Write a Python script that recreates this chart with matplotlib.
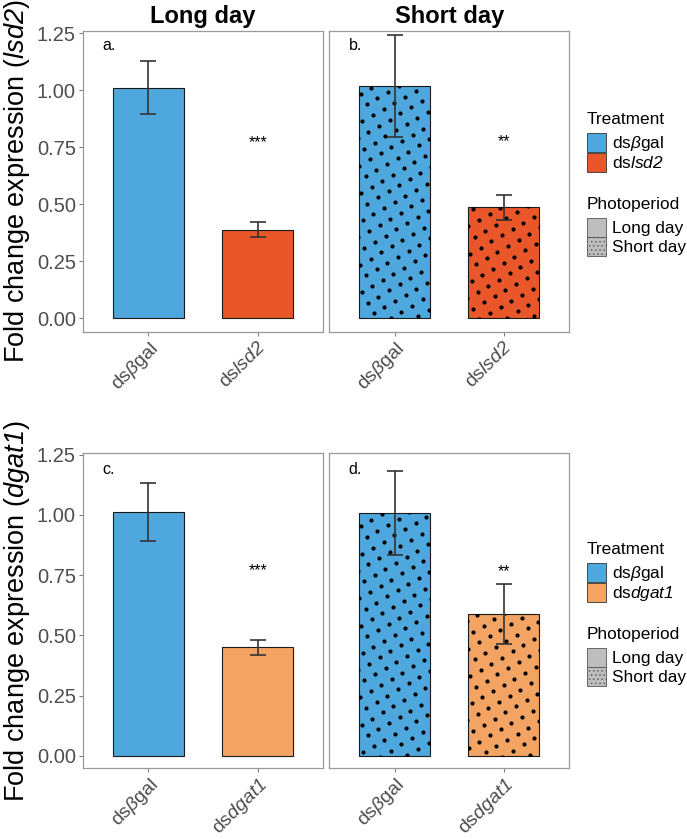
import matplotlib
matplotlib.use('Agg')
import matplotlib.pyplot as plt
import numpy as np
from matplotlib.patches import Patch
from matplotlib.transforms import IdentityTransform

plt.rcParams['font.family'] = ['Liberation Sans', 'DejaVu Sans']
plt.rcParams['mathtext.fontset'] = 'custom'
plt.rcParams['mathtext.rm'] = 'Liberation Sans'
plt.rcParams['mathtext.it'] = 'Liberation Sans:italic'
# \mathsf is used for gene names so that digits come out italic too
plt.rcParams['mathtext.sf'] = 'Liberation Sans:italic'
plt.rcParams['mathtext.bf'] = 'Liberation Sans:bold'
plt.rcParams['hatch.linewidth'] = 0.5

# data (rows: long day, short day; columns: ds-beta-gal, ds-target)
photoperiods = ['Long day', 'Short day']
panel_letters = [['a.', 'b.'], ['c.', 'd.']]
genes = ['lsd2', 'dgat1']

lsd2_mean = [[1.011, 0.387], [1.020, 0.487]]
lsd2_lower = [[0.896, 0.356], [0.796, 0.432]]
lsd2_upper = [[1.128, 0.420], [1.244, 0.541]]
lsd2_stars = ['***', '**']
lsd2_star_y = [0.77, 0.775]

dgat1_mean = [[1.011, 0.450], [1.006, 0.587]]
dgat1_lower = [[0.890, 0.418], [0.832, 0.463]]
dgat1_upper = [[1.132, 0.480], [1.180, 0.711]]
dgat1_stars = ['***', '**']
dgat1_star_y = [0.77, 0.765]

treatments = [[r'ds$\beta$gal', r'ds$\mathsf{lsd2}$'],
              [r'ds$\beta$gal', r'ds$\mathsf{dgat1}$']]
yticks = [0, 0.25, 0.5, 0.75, 1.0, 1.25]

blue = '#4EA8DE'
colors = [[blue, '#E8562A'], [blue, '#F4A462']]

W, H = 687, 839
fig = plt.figure(figsize=(W / 100, H / 100), dpi=100)


def dot_fill(ax, bar, spacing=12.3, angle=30, size=9):
    """fill a bar with a rotated grid of black dots (short day pattern)"""
    bb = bar.get_window_extent()
    cx, cy = (bb.x0 + bb.x1) / 2, (bb.y0 + bb.y1) / 2
    n = int(np.hypot(bb.width, bb.height) / 2 / spacing) + 2
    i, j = np.meshgrid(np.arange(-n, n + 1), np.arange(-n, n + 1))
    th = np.radians(angle)
    px = cx + spacing * (i * np.cos(th) + j * np.sin(th))
    py = cy + spacing * (i * np.sin(th) - j * np.cos(th))
    keep = (px > bb.x0 - 2) & (px < bb.x1 + 2) & (py > bb.y0 - 2) & (py < bb.y1 + 2)
    sc = ax.scatter(px[keep], py[keep], s=size, c='black', linewidths=0,
                    transform=IdentityTransform(), zorder=2.5)
    sc.set_clip_path(bar)


# panel boxes in pixels
rows_px = [(31, 331.7), (453.3, 768.3)]
cols_px = [(82.7, 323.3), (329.3, 569)]
ylims = [(-0.059, 1.26), (-0.052, 1.255)]

data = [(lsd2_mean, lsd2_lower, lsd2_upper, lsd2_stars, lsd2_star_y),
        (dgat1_mean, dgat1_lower, dgat1_upper, dgat1_stars, dgat1_star_y)]

x = np.array([1, 2])
for r in range(2):
    mean, lower, upper, stars, star_y = data[r]
    top, bot = rows_px[r]
    for c in range(2):
        left, right = cols_px[c]
        ax = fig.add_axes([left / W, 1 - bot / H, (right - left) / W, (bot - top) / H])
        ax.set_xlim(0.4, 2.6)
        ax.set_ylim(*ylims[r])
        m = np.array(mean[c])
        lo = np.array(lower[c])
        hi = np.array(upper[c])
        bars = ax.bar(x, m, width=0.65, color=colors[r], edgecolor='#1a1a1a',
                      linewidth=0.8, zorder=2)
        if c == 1:
            for b in bars:
                dot_fill(ax, b)
        ax.errorbar(x, m, yerr=[m - lo, hi - m], fmt='none', ecolor='#333333',
                    elinewidth=1.2, capsize=6, capthick=1.2, zorder=3)
        ax.text(2, star_y[c], stars[c], ha='center', va='center', fontsize=11.5)
        ax.text(0.08, 0.952 if r == 0 else 0.947, panel_letters[r][c],
                transform=ax.transAxes, ha='left', va='center', fontsize=11.5)
        ax.set_xlim(0.4, 2.6)
        ax.set_ylim(*ylims[r])
        ax.set_xticks(x)
        ax.set_xticklabels(treatments[r], rotation=45, ha='right', va='top',
                           rotation_mode='anchor')
        ax.set_yticks(yticks)
        if c == 0:
            ax.set_yticklabels(['%.2f' % v for v in yticks])
        else:
            ax.tick_params(axis='y', left=False, labelleft=False)
        ax.tick_params(axis='both', color='#7f7f7f', length=3, width=0.8,
                       labelsize=14.5, labelcolor='#4d4d4d', pad=2)
        ax.tick_params(axis='x', labelsize=14)
        for s in ax.spines.values():
            s.set_color('#9a9a9a')
            s.set_linewidth(0.9)
        if r == 0:
            fig.text((left + right) / 2 / W, 1 - 16 / H, photoperiods[c],
                     ha='center', va='center', fontsize=17, fontweight='bold')
    fig.text(2 / W, 1 - (top + bot) / 2 / H,
             r'Fold change expression ($\mathsf{%s}$)' % genes[r],
             rotation=90, ha='left', va='center', fontsize=19.5)

    # legends
    treat_handles = [Patch(facecolor=colors[r][i], edgecolor='#333333', linewidth=0.6,
                           label=treatments[r][i]) for i in range(2)]
    photo_handles = [Patch(facecolor='#bebebe', edgecolor='#555555', linewidth=0.6,
                           label='Long day'),
                     Patch(facecolor='#bebebe', edgecolor='#555555', linewidth=0.6,
                           hatch='....', label='Short day')]
    leg_top = [112, 542][r]
    kw = dict(loc='upper left', frameon=False, fontsize=12.4, title_fontsize=12.4,
              handlelength=1.13, handleheight=1.32, handletextpad=0.3,
              labelspacing=0, borderpad=0, borderaxespad=0, alignment='left')
    for handles, title, off in [(treat_handles, 'Treatment', 0),
                                (photo_handles, 'Photoperiod', 85)]:
        leg = fig.legend(handles=handles, title=title,
                         bbox_to_anchor=(587 / W, 1 - (leg_top + off) / H), **kw)
        leg._legend_box.sep = 4

fig.savefig('out.png', dpi=100)
